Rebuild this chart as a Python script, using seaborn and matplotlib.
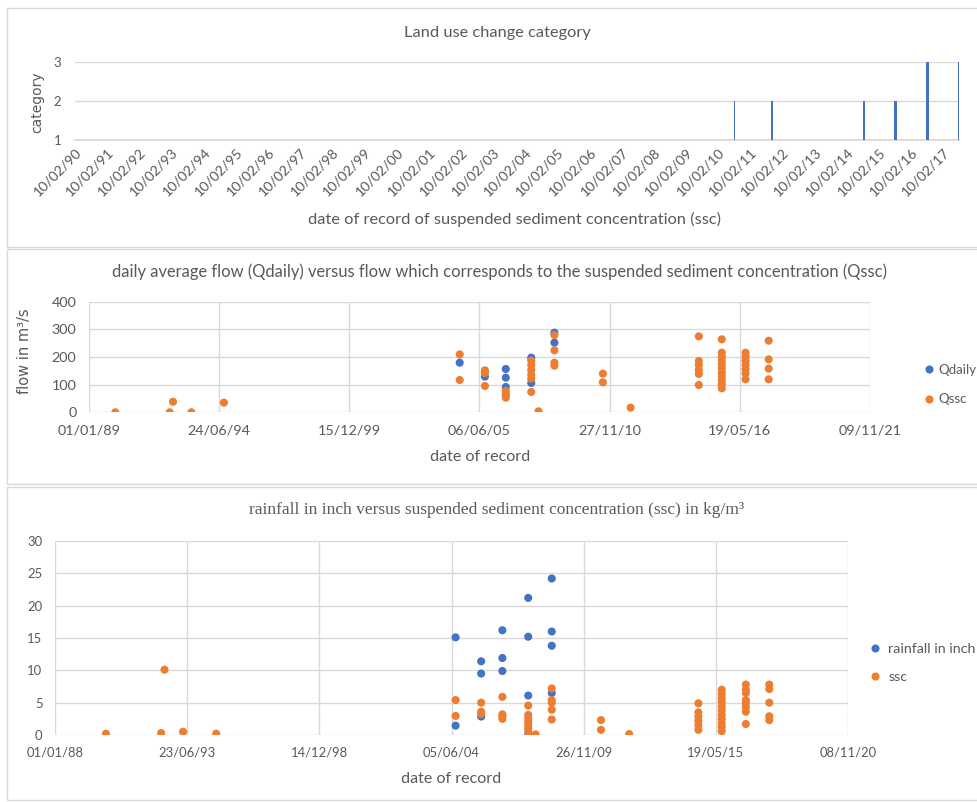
import numpy as np
import pandas as pd
import matplotlib
matplotlib.use("Agg")
import matplotlib.pyplot as plt
import matplotlib.dates as mdates
from matplotlib.patches import Rectangle
import seaborn as sns

# ---------------- data ----------------
# Panel 1: land use change category
lu_dates = ["2010-08-15", "2011-10-15", "2014-08-28", "2015-08-16", "2016-08-15", "2017-08-05"]
lu_category = [2, 2, 2, 2, 3, 3]
lu_tick_years = list(range(1990, 2018))

# record dates shared by panels 2 and 3
record_dates = ["1990-02-10", "1992-05-25", "1992-07-15", "1993-04-22", "1994-09-05",
                "2004-08-06", "2005-08-28", "2006-07-15", "2007-08-10", "2007-11-30",
                "2008-07-31", "2010-08-15", "2011-10-15", "2014-08-28", "2015-08-16",
                "2016-08-15", "2017-08-05"]

# Panel 2: flows (m3/s)
qdaily = [[], [], [], [], [],
          [179.5], [129], [156.6, 125.3, 91.6], [197.6, 106], [],
          [288, 251.8], [], [], [], [], [], []]
qssc = [[0], [0], [38], [0], [35],
        [209.6, 116.9], [151.8, 142, 95.2], [78, 70, 62, 53],
        [186.7, 171, 153, 136, 121.7, 73.5], [3.6],
        [279.5, 224, 179.5, 168.7], [139.8, 108.4], [16.9],
        [274.7, 185.5, 171, 153, 138.5, 98.8],
        [263.9, 215.7, 201, 186.7, 173.5, 159, 143.4, 129, 115.7, 101.2, 86.7],
        [215.7, 201, 186.7, 172.3, 155.4, 141, 119.3],
        [259, 191.6, 157.8, 119.3]]

# Panel 3: rainfall (inch) and ssc (kg/m3)
rainfall = [[], [], [], [], [],
            [15.1, 1.45], [11.4, 9.5, 2.85], [16.2, 11.9, 9.9],
            [21.2, 15.2, 6.1, 0.0], [],
            [24.2, 16.0, 13.8, 6.5], [], [], [], [], [], []]
ssc = [[0.2], [0.3], [10.1], [0.5], [0.2],
       [5.4, 2.95], [5.0, 3.6, 3.25], [5.9, 3.2, 2.9, 2.5],
       [4.55, 3.1, 2.6, 2.1, 1.55, 1.0, 0.5], [0.1],
       [7.2, 5.4, 5.0, 3.9, 2.4], [2.3, 0.8], [0.15],
       [4.9, 3.5, 2.85, 2.2, 1.55, 0.8],
       [7.0, 6.4, 5.7, 5.1, 4.4, 3.8, 3.1, 2.5, 1.8, 1.2, 0.6],
       [7.8, 7.0, 6.5, 5.4, 4.9, 4.3, 3.6, 1.7],
       [7.8, 7.1, 5.0, 2.9, 2.3]]

# ---------------- style ----------------
BLUE = "#4472C4"
ORANGE = "#ED7D31"
GRID = "#d9d9d9"
TXT = "#595959"
W, H = 977, 802

sns.set_theme(style="white")
plt.rcParams["font.family"] = ["Lato", "DejaVu Sans"]

fig = plt.figure(figsize=(W / 100, H / 100), dpi=100)
fig.patch.set_facecolor("white")


def ax_rect(l, t, r, b):
    return [l / W, 1 - b / H, (r - l) / W, (b - t) / H]


def ftext(x, y, s, **kw):
    fig.text(x / W, 1 - y / H, s, ha="center", va="center", color=TXT, **kw)


# panel frames
for (t, b) in [(8, 247), (249, 484), (487, 800)]:
    fig.add_artist(Rectangle((7 / W, 1 - b / H), (990 - 7) / W, (b - t) / H,
                             transform=fig.transFigure, fill=False,
                             edgecolor=GRID, linewidth=1))


def long_df(values, name):
    rows = []
    for d, vals in zip(record_dates, values):
        for v in vals:
            rows.append((pd.Timestamp(d), v, name))
    return pd.DataFrame(rows, columns=["date", "value", "series"])


# ---------------- panel 1 ----------------
ax1 = fig.add_axes(ax_rect(75, 62, 959, 140))
lu_x = mdates.date2num(pd.to_datetime(lu_dates))
lu_widths = [11, 19, 19, 34, 45, 22]
ax1.bar(lu_x, np.array(lu_category) - 1, bottom=1, width=lu_widths,
        color=BLUE, align="center", linewidth=0, zorder=3)
ax1.set_xlim(mdates.date2num(pd.Timestamp("1990-02-10")),
             mdates.date2num(pd.Timestamp("2017-08-08")))
ax1.set_ylim(1, 3)
ax1.set_yticks([1, 2, 3])
ax1.set_yticklabels(["1", "2", "3"], fontsize=9.5, color=TXT)
yr_ticks = mdates.date2num(pd.to_datetime([f"{y}-02-10" for y in lu_tick_years]))
ax1.set_xticks(yr_ticks)
ax1.set_xticklabels([f"10/02/{y % 100:02d}" for y in lu_tick_years],
                    rotation=45, ha="right", rotation_mode="anchor",
                    fontsize=10.2, color=TXT)
ax1.yaxis.grid(True, color=GRID, linewidth=1)
ax1.xaxis.grid(False)
for s in ["top", "right", "left"]:
    ax1.spines[s].set_visible(False)
ax1.spines["bottom"].set_color(GRID)
ax1.tick_params(axis="x", length=4, color=GRID, pad=2, direction="inout")
ax1.tick_params(axis="y", length=0, pad=10)
ftext(497, 33, "Land use change category", fontsize=11.8)
ftext(515, 219, "date of record of suspended sediment concentration (ssc)", fontsize=11.8)
fig.text(37 / W, 1 - 102 / H, "category", rotation=90, ha="center", va="center",
         color=TXT, fontsize=10, family="DejaVu Sans")

# ---------------- panel 2 ----------------
ax2 = fig.add_axes(ax_rect(89, 301.7, 870, 412.3))
df2 = pd.concat([long_df(qdaily, "Qdaily"), long_df(qssc, "Qssc")], ignore_index=True)
sns.scatterplot(data=df2, x="date", y="value", hue="series",
                palette={"Qdaily": BLUE, "Qssc": ORANGE}, s=34, linewidth=0,
                ax=ax2, zorder=3)
start2 = pd.Timestamp("1989-01-01")
ticks2 = [start2 + pd.Timedelta(days=2000 * i) for i in range(7)]
ax2.set_xlim(mdates.date2num(ticks2[0]), mdates.date2num(ticks2[-1]))
ax2.set_xticks(mdates.date2num(ticks2))
ax2.set_xticklabels([t.strftime("%d/%m/%y") for t in ticks2], fontsize=10.4, color=TXT)
ax2.set_ylim(0, 400)
ax2.set_yticks([0, 100, 200, 300, 400])
ax2.set_yticklabels(["0", "100", "200", "300", "400"], fontsize=10.4, color=TXT)
ax2.grid(True, color=GRID, linewidth=1)
for s in ax2.spines.values():
    s.set_visible(False)
ax2.tick_params(axis="x", length=0, pad=9)
ax2.tick_params(axis="y", length=0, pad=9)
ax2.set_xlabel("")
ax2.set_ylabel("")
sns.move_legend(ax2, "upper left", bbox_to_anchor=(916 / W, 1 - 364 / H),
                bbox_transform=fig.transFigure, frameon=False, title=None,
                fontsize=9.5, labelspacing=1.3, handletextpad=-0.3, markerscale=1.0,
                borderaxespad=0, borderpad=0)
for t in ax2.get_legend().get_texts():
    t.set_color(TXT)
ftext(499, 272, "daily average flow (Qdaily) versus flow which corresponds to the "
      "suspended sediment concentration (Qssc)", fontsize=11.9)
ftext(480, 457, "date of record", fontsize=11.6)
fig.text(25 / W, 1 - 351 / H, "flow in m\u00b3/s", rotation=90, ha="center", va="center",
         color=TXT, fontsize=10.5, family="DejaVu Sans")

# ---------------- panel 3 ----------------
ax3 = fig.add_axes(ax_rect(55, 541, 848, 735))
df3 = pd.concat([long_df(rainfall, "rainfall in inch"), long_df(ssc, "ssc")],
                ignore_index=True)
sns.scatterplot(data=df3, x="date", y="value", hue="series",
                palette={"rainfall in inch": BLUE, "ssc": ORANGE}, s=34, linewidth=0,
                ax=ax3, zorder=3)
start3 = pd.Timestamp("1988-01-01")
ticks3 = [start3 + pd.Timedelta(days=2000 * i) for i in range(7)]
ax3.set_xlim(mdates.date2num(ticks3[0]), mdates.date2num(ticks3[-1]))
ax3.set_xticks(mdates.date2num(ticks3))
ax3.set_xticklabels([t.strftime("%d/%m/%y") for t in ticks3], fontsize=9.4, color=TXT)
ax3.set_ylim(0, 30)
ax3.set_yticks([0, 5, 10, 15, 20, 25, 30])
ax3.set_yticklabels(["0", "5", "10", "15", "20", "25", "30"], fontsize=9.4, color=TXT)
ax3.grid(True, color=GRID, linewidth=1)
for s in ax3.spines.values():
    s.set_visible(False)
ax3.tick_params(axis="x", length=0, pad=8)
ax3.tick_params(axis="y", length=0, pad=9)
ax3.set_xlabel("")
ax3.set_ylabel("")
sns.move_legend(ax3, "upper left", bbox_to_anchor=(861 / W, 1 - 643 / H),
                bbox_transform=fig.transFigure, frameon=False, title=None,
                fontsize=10.3, labelspacing=1.1, handletextpad=-0.1, markerscale=1.0,
                borderaxespad=0, borderpad=0)
for t in ax3.get_legend().get_texts():
    t.set_color(TXT)
ftext(497, 510, "rainfall in inch versus suspended sediment concentration (ssc) in kg/m\u00b3",
      fontsize=12.5, family="Liberation Serif")
ftext(451, 779, "date of record", fontsize=11.6)

fig.savefig("out.png", dpi=100, facecolor="white")
